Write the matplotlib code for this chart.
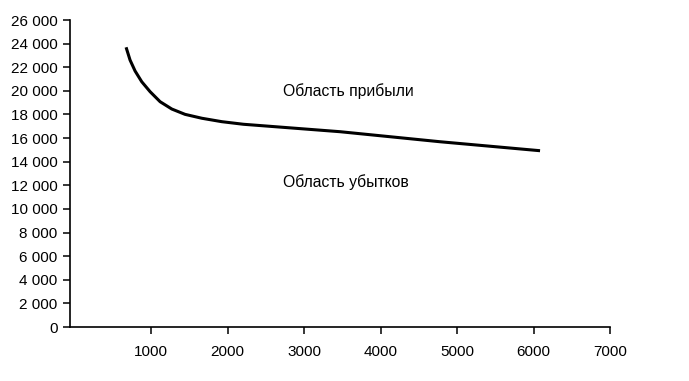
import matplotlib.pyplot as plt
from matplotlib.ticker import FuncFormatter

# точки кривой безубыточности
volume = [673, 725, 791, 878, 987, 1118, 1271, 1444, 1663, 1924, 2207, 3471, 4778, 6085]
price = [23690, 22610, 21680, 20770, 19930, 19080, 18460, 18010, 17680, 17390, 17170, 16540, 15690, 14930]

x_ticks = [1000, 2000, 3000, 4000, 5000, 6000, 7000]
y_ticks = list(range(0, 26001, 2000))

plt.rcParams['font.family'] = ['Liberation Sans', 'DejaVu Sans']

fig = plt.figure(figsize=(6.89, 3.81), dpi=100)
ax = fig.add_axes([0.1016, 0.1417, 0.7838, 0.8058])

ax.plot(volume, price, color='black', linewidth=2.2, solid_capstyle='butt')

ax.text(2730, 20000, 'Область прибыли', fontsize=11.3, va='center', ha='left')
ax.text(2730, 12300, 'Область убытков', fontsize=11.3, va='center', ha='left')

ax.set_xlim(-60, 7000)
ax.set_ylim(0, 26000)
ax.set_xticks(x_ticks)
ax.set_yticks(y_ticks)
ax.yaxis.set_major_formatter(FuncFormatter(lambda v, p: f'{int(v):,}'.replace(',', ' ')))
ax.tick_params(labelsize=11, length=5, width=1.1, color='black', pad=4)
ax.tick_params(axis='x', pad=8)

for s in ['top', 'right']:
    ax.spines[s].set_visible(False)
for s in ['left', 'bottom']:
    ax.spines[s].set_linewidth(1.2)

fig.savefig('out.png', dpi=100)
